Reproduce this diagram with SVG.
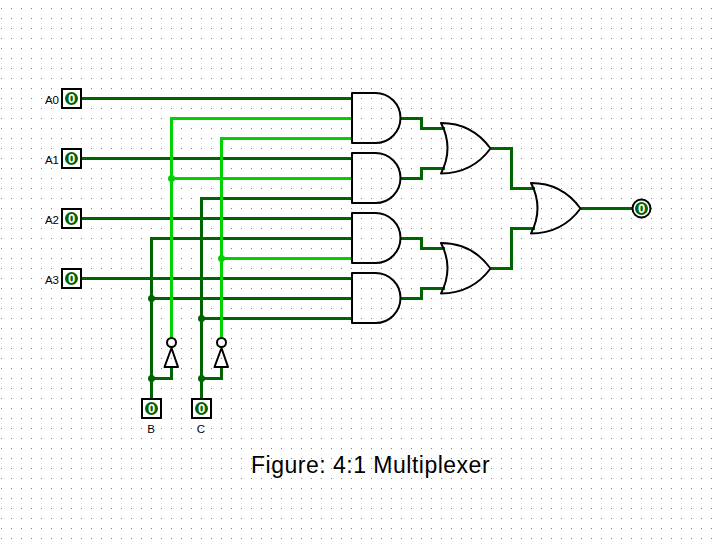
<svg xmlns="http://www.w3.org/2000/svg" width="721" height="540" viewBox="0 0 721 540">
<style>
.w{fill:none;stroke-width:3;stroke-linejoin:miter}
.d{stroke:#006400}.g{stroke:#00d200}
.jd{fill:#006400}.jg{fill:#00d200}
.gate{fill:none;stroke:#000;stroke-width:2;stroke-linejoin:round}
.box{fill:#fff;stroke:#000;stroke-width:2}
.lbl{font-family:"Liberation Sans",Arial,sans-serif;font-size:11.5px;fill:#000;text-anchor:middle}
.val{font-family:"Liberation Sans",Arial,sans-serif;font-size:13px;font-weight:bold;fill:#fff;text-anchor:middle}
.title{font-family:"Liberation Sans",Arial,sans-serif;font-size:23px;letter-spacing:.5px;fill:#000}
</style>
<defs>
<pattern id="grid" width="10" height="10" patternUnits="userSpaceOnUse"><rect x="1" y="8" width="1" height="1" fill="#808080"/></pattern>
<path id="and" d="M352 93H375.500A25 25 0 0 1 375.500 143H352Z"/>
<path id="or" d="M441 123Q472 123 490.500 148.500Q472 173.500 441 173.500Q454 148 441 123Z"/>
</defs>
<rect width="721" height="540" fill="#fff"/>
<rect width="721" height="540" fill="url(#grid)"/>
<g id="connectors">
<path class="w d" d="M81 98.500H352M81 158.500H352M81 218.500H352M81 278.500H352"/>
<path class="w d" d="M151.500 399V238.500H352M201.500 399V198.500H352M151.500 298.500H352M201.500 318.500H352"/>
<path class="w d" d="M151.500 378.500H171.500V367M201.500 378.500H221.500V367"/>
<path class="w g" d="M171.500 338V118.500H352M221.500 338V138.500H352M171.500 178.500H352M221.500 258.500H352"/>
<path class="w d" d="M401 118.500H421.500V128.500H445M401 178.500H421.500V168.500H445M401 238.500H421.500V248.500H445M401 298.500H421.500V288.500H445"/>
<path class="w d" d="M491 148.500H511.500V188.500H535M491 268.500H511.500V228.500H535M581 208.500H632"/>
<circle class="jd" cx="151.500" cy="298.500" r="3.500"/>
<circle class="jd" cx="201.500" cy="318.500" r="3.500"/>
<circle class="jd" cx="151.500" cy="378.500" r="3.500"/>
<circle class="jd" cx="201.500" cy="378.500" r="3.500"/>
<circle class="jg" cx="171.500" cy="178.500" r="3.500"/>
<circle class="jg" cx="221.500" cy="258.500" r="3.500"/>
</g>
<g id="pinA0"><rect class="box" x="62" y="89" width="19" height="19"/><circle class="jd" cx="71.500" cy="98.500" r="6.500"/><text class="val" x="71.500" y="103">0</text><text class="lbl" x="52" y="103.500">A0</text></g>
<g id="pinA1"><rect class="box" x="62" y="149" width="19" height="19"/><circle class="jd" cx="71.500" cy="158.500" r="6.500"/><text class="val" x="71.500" y="163">0</text><text class="lbl" x="52" y="163.500">A1</text></g>
<g id="pinA2"><rect class="box" x="62" y="209" width="19" height="19"/><circle class="jd" cx="71.500" cy="218.500" r="6.500"/><text class="val" x="71.500" y="223">0</text><text class="lbl" x="52" y="223.500">A2</text></g>
<g id="pinA3"><rect class="box" x="62" y="269" width="19" height="19"/><circle class="jd" cx="71.500" cy="278.500" r="6.500"/><text class="val" x="71.500" y="283">0</text><text class="lbl" x="52" y="283.500">A3</text></g>
<g id="pinB"><rect class="box" x="142" y="399" width="19" height="19"/><circle class="jd" cx="151.500" cy="408.500" r="6.500"/><text class="val" x="151.500" y="413">0</text><text class="lbl" x="151" y="433">B</text></g>
<g id="pinC"><rect class="box" x="192" y="399" width="19" height="19"/><circle class="jd" cx="201.500" cy="408.500" r="6.500"/><text class="val" x="201.500" y="413">0</text><text class="lbl" x="201" y="433">C</text></g>
<g id="not1"><path class="gate" d="M164.500 367H178L171.500 348Z"/><circle class="gate" cx="171.500" cy="342.500" r="4.500"/></g>
<g id="not2"><path class="gate" d="M214.500 367H228L221.500 348Z"/><circle class="gate" cx="221.500" cy="342.500" r="4.500"/></g>
<g id="and1"><use href="#and" class="gate"/></g>
<g id="and2"><use href="#and" y="60" class="gate"/></g>
<g id="and3"><use href="#and" y="120" class="gate"/></g>
<g id="and4"><use href="#and" y="180" class="gate"/></g>
<g id="or1"><use href="#or" class="gate"/></g>
<g id="or2"><use href="#or" y="120" class="gate"/></g>
<g id="or3"><use href="#or" x="90" y="60" class="gate"/></g>
<g id="output"><circle cx="641.500" cy="208.500" r="9" fill="#fff" stroke="#000" stroke-width="2"/><circle class="jd" cx="641.500" cy="208.500" r="6.500"/><text class="val" x="641.500" y="213">0</text></g>
<text id="title" class="title" x="251" y="473">Figure: 4:1 Multiplexer</text>
</svg>
